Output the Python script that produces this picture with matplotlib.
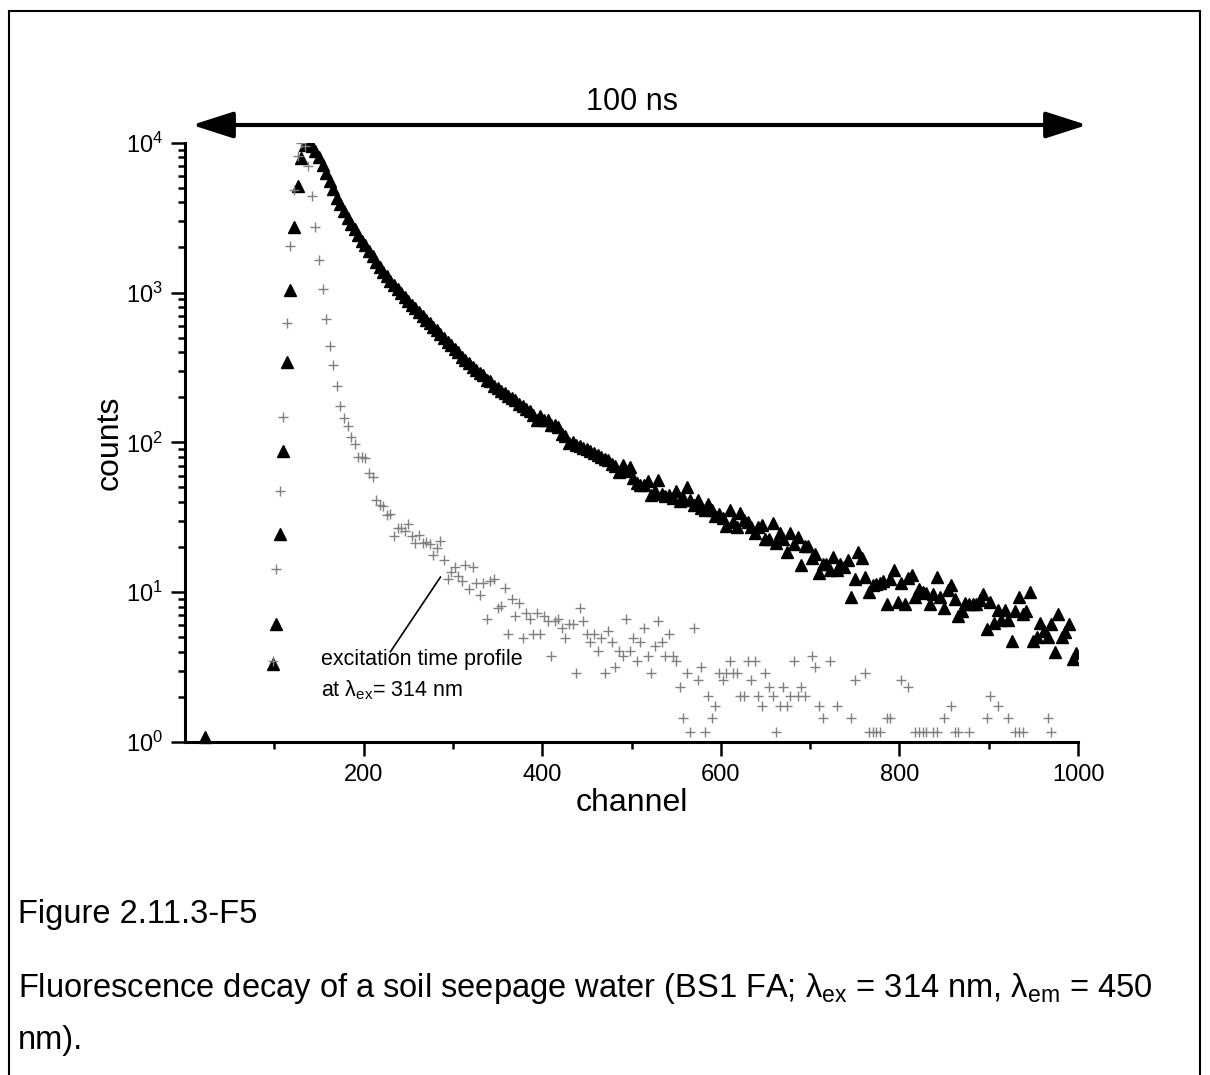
import numpy as np
import matplotlib

matplotlib.use('Agg')
import matplotlib.pyplot as plt
from matplotlib.lines import Line2D
from matplotlib.ticker import FixedLocator, LogLocator, LogFormatterMathtext, NullFormatter

plt.rcParams['font.family'] = ['Liberation Sans', 'DejaVu Sans']
plt.rcParams['mathtext.fontset'] = 'custom'
plt.rcParams['mathtext.rm'] = 'Liberation Sans'
plt.rcParams['mathtext.it'] = 'Liberation Sans:italic'
plt.rcParams['mathtext.bf'] = 'Liberation Sans:bold'

# Every 4th channel is plotted; both series share this grid
channels = np.arange(98, 1000, 4)

# Lone decay point before the rise
early_channel = [22]
early_count = [1.08]

# Fluorescence decay (triangles), channel 98 .. 998
decay = np.array([
    3.3, 6.1, 24.5, 87, 345, 1040, 2750, 5150, 7950, 9600,              # 98
    10000, 9450, 8800, 8000, 7150, 6250, 5550, 4900, 4300, 3900,        # 138
    3500, 3150, 2880, 2640, 2430, 2220, 2060, 1880, 1740, 1610,         # 178
    1490, 1380, 1280, 1200, 1120, 1050, 990, 935, 880, 830,             # 218
    790, 742, 700, 660, 628, 590, 560, 528, 500, 470,                   # 258
    445, 418, 398, 372, 356, 336, 320, 303, 290, 280,                   # 298
    262, 255, 238, 232, 220, 214, 204, 198, 192, 180,                   # 338
    176, 166, 163, 152, 141, 149, 141, 141, 131, 130,                   # 378
    127, 114, 110, 99, 101, 96, 94, 91, 90, 87,                         # 418
    85, 82, 80, 77, 76, 72, 70, 63, 71, 64,                             # 458
    68, 58, 53.5, 52,                                                   # 498
    52.0, 54.8, 44.6, 47.0, 56.2, 45.5, 43.9, 44.6, 42.4, 47.0,         # 514
    40.3, 42.4, 50.7, 41.3, 38.2, 41.3, 36.3, 35.4, 38.6, 35.4,         # 554
    32.0, 33.5, 31.2, 27.7, 35.4, 29.6, 27.1, 34.0, 30.1, 29.6,         # 594
    27.1, 25.0, 27.1, 28.1, 22.6, 22.6, 28.8, 21.4, 24.7, 22.6,         # 634
    18.4, 24.7, 21.0, 23.3, 15.2, 20.4, 20.4, 16.8, 18.0, 13.4,         # 674
    15.4, 15.4, 14.1, 17.3, 14.1, 15.4, 14.8, 16.3, 9.3, 12.2,          # 714
    18.4, 17.0, 12.6, 10.1, 11.2, 11.4, 11.5, 11.8, 8.4, 12.2,          # 754
    14.1, 8.65, 11.5, 8.35, 12.5, 13.0, 9.3, 10.5, 10.1, 9.8,           # 794
    8.4, 9.7, 12.7, 9.3, 7.9, 10.4, 11.2, 9.0, 6.9, 7.5,                # 834
    8.5, 8.4, 8.35, 8.4, 8.9, 9.7, 5.7, 8.65, 6.2, 7.6,                 # 874
    6.5, 7.6, 6.5, 4.7, 7.5, 9.3, 7.2, 7.5, 10.1, 4.7,                  # 914
    5.0, 6.2, 5.5, 5.05, 6.1, 4.0, 7.2, 5.05, 5.45, 6.1,                # 954
    3.6, 3.95,                                                          # 994
])

# Excitation time profile (crosses), channel 98 .. 998; 0 = below the axis
excitation = np.array([
    3.48, 14.2, 47.5, 147, 630, 2050, 4850, 8100, 9950, 9450,           # 98
    7020, 4380, 2735, 1655, 1055, 668, 443, 326,                        # 138
    236, 175, 145, 128, 109, 97, 80, 80, 79, 62,                        # 170
    59, 41, 38, 37.6, 32.8, 33.3, 23.8, 27, 26.8, 25.8,                 # 210
    28.6, 23.8, 21.2, 24.2, 21.2, 21.7, 21.0, 17.7, 19.6, 21.8,         # 250
    16.5, 12.18, 13.63, 14.79, 12.76, 11.89, 15.08, 10.44, 14.79, 11.6, # 290
    9.57, 11.6, 6.67, 11.89, 12.18, 7.83, 8.12, 10.73, 5.22, 8.99,      # 330
    6.96, 8.41, 4.93, 7.25, 6.67, 5.22, 7.25, 5.22, 6.96, 6.38,         # 370
    3.77, 6.38,                                                         # 410
    6.67, 5.8, 4.93, 6.09, 6.09, 2.90, 7.83, 6.38, 5.22, 4.64,          # 418
    5.22, 4.06, 4.93, 2.90, 5.51, 4.64, 3.19, 4.06, 3.77, 6.67,         # 458
    4.06, 4.93, 3.48, 4.64, 5.8, 3.77, 2.90, 4.35, 6.38, 4.64,          # 498
    3.77, 5.22, 3.77, 3.48, 2.32, 1.45, 2.90, 1.16, 5.8, 2.61,          # 538
    3.19, 1.16, 2.03, 1.45, 1.74, 2.90, 2.61, 2.90, 3.48, 2.90,         # 578
    2.90, 2.03, 2.03, 3.48, 2.61, 3.48, 2.03, 1.74, 2.90, 2.32,         # 618
    2.03, 1.16, 1.74, 2.32, 1.74, 2.03, 3.48, 2.03, 2.32, 2.03,         # 658
    0, 3.77, 3.19, 1.74, 1.45, 0, 3.48, 0, 1.74, 0,                     # 698
    0, 0, 1.45, 2.61, 0, 0, 2.90, 1.16, 1.16, 1.16,                     # 738
    1.16, 0, 1.45, 1.45, 0, 0, 2.61, 0, 2.32, 0,                        # 778
    1.16, 1.16, 1.16, 1.16, 0, 1.16, 1.16, 0, 1.45, 0,                  # 818
    1.74, 1.16, 1.16, 0, 0, 1.16, 0, 0, 0, 0,                           # 858
    1.45, 2.03, 0, 1.74, 0, 0, 1.45, 0, 1.16, 1.16,                     # 898
    1.16, 0, 0, 0, 0, 0, 0, 1.45, 1.16, 0,                              # 938
    0, 0, 0, 0, 0, 0,                                                   # 978
])

fig = plt.figure(figsize=(12.1, 10.75), dpi=100)
W, H = 1210, 1075

# frame round the figure and caption
frame = dict(color='black', lw=1.5, transform=fig.transFigure)
fig.add_artist(Line2D([9 / W, 9 / W], [0, 1 - 11 / H], **frame))
fig.add_artist(Line2D([9 / W, 1200 / W], [1 - 11 / H, 1 - 11 / H], **frame))
fig.add_artist(Line2D([1200 / W, 1200 / W], [0, 1 - 11 / H], **frame))

ax = fig.add_axes([185 / W, 1 - 742 / H, (1078 - 185) / W, (742 - 142.7) / H])
ax.set_yscale('log')
ax.set_xlim(0, 1000)
ax.set_ylim(1, 1e4)

ax.plot(early_channel, early_count, linestyle='none', marker='^', ms=8,
        color='black', clip_on=False, zorder=3)
ax.plot(channels, decay, linestyle='none', marker='^', ms=8, color='black', zorder=3)
shown = excitation > 0
ax.plot(channels[shown], excitation[shown], linestyle='none', marker='+', ms=7,
        mew=1.0, color='#808080', zorder=4)

for side in ('top', 'right'):
    ax.spines[side].set_visible(False)
for side in ('left', 'bottom'):
    ax.spines[side].set_linewidth(2.2)

ax.xaxis.set_major_locator(FixedLocator([200, 400, 600, 800, 1000]))
ax.xaxis.set_minor_locator(FixedLocator([100, 300, 500, 700, 900]))
ax.yaxis.set_major_locator(LogLocator(base=10, numticks=10))
ax.yaxis.set_major_formatter(LogFormatterMathtext())
ax.yaxis.set_minor_locator(LogLocator(base=10, subs=np.arange(2, 10), numticks=20))
ax.yaxis.set_minor_formatter(NullFormatter())
ax.tick_params(which='major', direction='out', length=10, width=1.8, labelsize=17, pad=6)
ax.tick_params(which='minor', direction='out', length=5, width=1.8)

ax.set_xlabel('channel', fontsize=23, va='center')
ax.xaxis.set_label_coords(0.5, -(803 - 742) / (742 - 142.7))
ax.set_ylabel('counts', fontsize=23, va='center')
ax.yaxis.set_label_coords(-(185 - 110) / (1078 - 185), 0.5)

# annotation for the excitation profile
ax.plot([230, 286], [4.0, 12.6], color='black', lw=1.2, zorder=5)
ax.text(152, 10 ** ((742 - 660) / 149.75), 'excitation time profile', fontsize=15.5,
        va='center', ha='left')
ax.text(152, 10 ** ((742 - 690) / 149.75), 'at λ$_{\\mathrm{ex}}$= 314 nm', fontsize=15.5,
        va='center', ha='left')

# 100 ns span arrow above the plot
ax.annotate('', xy=(1087 / W, 1 - 125 / H), xytext=(192 / W, 1 - 125 / H),
            xycoords='figure fraction', textcoords='figure fraction',
            arrowprops=dict(arrowstyle='<|-|>,head_length=1.4,head_width=0.45',
                            lw=3, color='black', shrinkA=0, shrinkB=0, mutation_scale=18))
fig.text(632 / W, 1 - 102 / H, '100 ns', fontsize=22, ha='center', va='center')

# caption
fig.text(18 / W, 1 - 914 / H, 'Figure 2.11.3-F5', fontsize=23.5, va='center')
fig.text(18 / W, 1 - 989 / H,
         'Fluorescence decay of a soil seepage water (BS1 FA; λ$_{\\mathrm{ex}}$ = 314 nm, '
         'λ$_{\\mathrm{em}}$ = 450', fontsize=23.5, va='center')
fig.text(18 / W, 1 - 1041 / H, 'nm).', fontsize=23.5, va='center')

fig.savefig('out.png', dpi=100)
